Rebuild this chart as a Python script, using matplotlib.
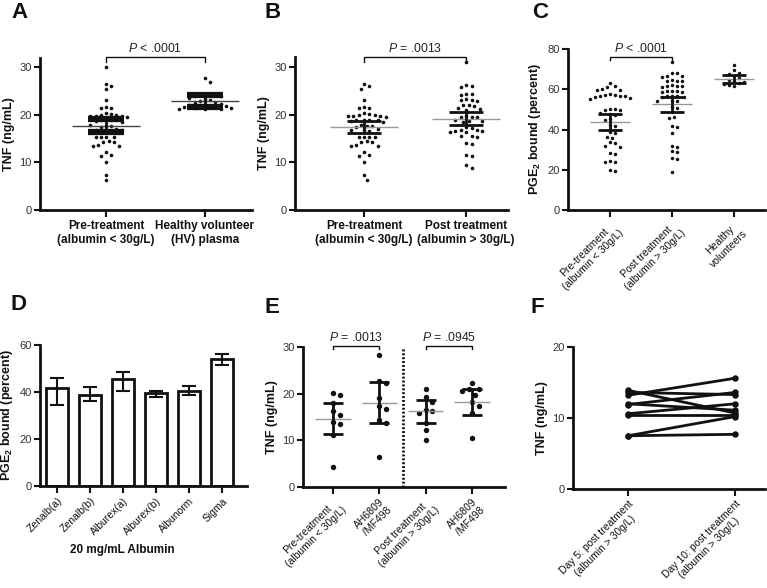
import numpy as np
import matplotlib
matplotlib.use("Agg")
import matplotlib.pyplot as plt

plt.rcParams['font.family'] = ['Liberation Sans', 'DejaVu Sans']
plt.rcParams['mathtext.fontset'] = 'custom'
plt.rcParams['mathtext.rm'] = 'Liberation Sans'
plt.rcParams['mathtext.it'] = 'Liberation Sans:italic'
plt.rcParams['mathtext.bf'] = 'Liberation Sans:bold'

# ---- data ----
# A
a_labels = ["Pre-treatment\n(albumin < 30g/L)", "Healthy volunteer\n(HV) plasma"]
a_pre = [30.1, 26.4, 26.0, 25.3, 23.1, 21.7, 21.5, 21.4, 20.3, 20.1, 19.9, 19.9, 19.8,
         19.8, 19.7, 19.6, 18.9, 18.8, 18.8, 18.8, 18.7, 18.5, 17.9, 17.7, 17.6, 17.5,
         16.9, 16.8, 16.7, 16.6, 16.4, 16.4, 15.4, 15.4, 15.3, 15.3, 14.4, 14.3, 14.2,
         13.6, 13.5, 13.4, 12.2, 11.6, 11.4, 10.0, 7.3, 6.2]
a_hv = [27.8, 26.9, 24.4, 24.3, 24.2, 24.1, 24.0, 23.9, 23.5, 23.3, 23.0, 22.9, 22.7,
        22.5, 22.3, 22.2, 22.0, 21.9, 21.8, 21.8, 21.7, 21.6, 21.5, 21.4, 21.3, 21.2, 21.1]
a_mean = [17.6, 22.9]
a_err_lo = [16.4, 21.7]
a_err_hi = [19.0, 24.2]

# B
b_labels = ["Pre-treatment\n(albumin < 30g/L)", "Post treatment\n(albumin > 30g/L)"]
b_pre = [26.4, 26.0, 25.3, 23.1, 21.7, 21.5, 21.4, 20.3, 20.1, 19.9, 19.9, 19.8, 19.8,
         19.7, 19.6, 18.9, 18.8, 18.8, 18.8, 18.7, 18.5, 17.9, 17.7, 17.6, 17.5, 16.9,
         16.8, 16.7, 16.6, 15.4, 15.4, 15.3, 15.3, 14.4, 14.3, 14.2, 13.6, 13.5, 13.4,
         12.2, 11.6, 11.4, 10.0, 7.3, 6.2]
b_post = [31.1, 26.3, 26.1, 25.9, 24.4, 24.3, 24.2, 23.2, 23.1, 23.0, 22.9, 22.1, 22.0,
          21.8, 21.3, 21.2, 21.0, 19.7, 19.6, 19.6, 19.5, 18.8, 18.7, 18.6, 18.5, 17.5,
          17.3, 16.8, 16.7, 16.6, 16.5, 16.4, 16.3, 15.6, 15.5, 15.3, 14.1, 13.8, 11.6,
          11.4, 9.4, 8.9]
b_mean = [17.5, 19.1]
b_err_lo = [16.1, 17.8]
b_err_hi = [18.7, 20.5]

# C
c_labels = ["Pre-treatment\n(albumin < 30g/L)", "Post treatment\n(albumin > 30g/L)",
            "Healthy\nvolunteers"]
c_pre = [63.3, 61.5, 61.0, 60.0, 59.8, 59.5, 57.5, 57.3, 57.0, 56.8, 56.6, 56.4, 56.2,
         55.5, 55.3, 50.3, 50.1, 49.9, 49.8, 48.0, 47.5, 47.2, 45.0, 44.8, 42.0, 41.8,
         38.8, 38.3, 36.5, 36.0, 33.7, 33.4, 31.8, 31.5, 28.3, 28.0, 24.3, 24.0, 23.8,
         20.0, 19.6]
c_post = [73.3, 68.2, 68.0, 66.7, 66.5, 66.3, 64.5, 64.3, 64.2, 64.0, 62.0, 61.8, 61.7,
          61.5, 61.3, 59.2, 59.0, 58.9, 58.7, 58.5, 56.7, 56.5, 56.4, 56.3, 56.0, 54.4,
          54.2, 54.0, 51.2, 50.8, 48.5, 46.2, 45.8, 41.7, 41.3, 38.5, 31.7, 31.3, 29.2,
          28.8, 25.7, 25.2, 18.7]
c_hv = [72.0, 69.5, 68.0, 67.5, 66.5, 65.5, 64.5, 64.0, 63.5, 63.0, 62.5, 62.0, 61.5]
c_mean = [43.8, 52.5, 65.0]
c_err_lo = [39.7, 48.7, 62.9]
c_err_hi = [47.5, 56.3, 67.2]

# D
d_labels = ["Zenalb(a)", "Zenalb(b)", "Alburex(a)", "Alburex(b)", "Albunorm", "Sigma"]
d_vals = [41.9, 38.6, 45.4, 39.7, 40.4, 54.0]
d_err_lo = [34.3, 36.1, 40.4, 38.0, 38.6, 51.4]
d_err_hi = [46.1, 42.3, 48.6, 40.4, 42.6, 56.1]

# E
e_labels = ["Pre-treatment\n(albumin < 30g/L)", "AH6809\n/MF498",
            "Post treatment\n(albumin > 30g/L)", "AH6809\n/MF498"]
e_groups = [
    [20.2, 19.7, 17.9, 16.2, 15.5, 13.9, 13.4, 11.2, 4.2],
    [28.2, 22.7, 22.2, 19.0, 17.3, 16.8, 14.3, 13.8, 6.5],
    [21.1, 19.3, 18.3, 16.6, 16.2, 15.9, 13.8, 12.3, 10.0],
    [22.3, 21.1, 21.0, 20.6, 19.8, 18.2, 17.4, 15.8, 10.6],
]
e_mean = [14.6, 18.1, 16.2, 18.2]
e_err_lo = [11.4, 13.7, 13.7, 15.5]
e_err_hi = [17.9, 22.6, 18.6, 21.0]

# F
f_labels = ["Day 5: post treatment\n(albumin > 30g/L)", "Day 10: post treatment\n(albumin > 30g/L)"]
f_day5 = [13.9, 13.6, 13.2, 12.0, 11.9, 10.6, 10.4, 7.5, 7.5]
f_day10 = [10.7, 13.3, 15.6, 11.1, 13.6, 12.0, 10.4, 10.2, 7.7]

W, H = 767, 588
fig = plt.figure(figsize=(W / 100, H / 100), dpi=100)


def add_ax(left, right, top, bottom):
    return fig.add_axes([left / W, 1 - bottom / H, (right - left) / W, (bottom - top) / H])


def setup(ax, xlim, ylim, yticks, xticks):
    for s in ['top', 'right']:
        ax.spines[s].set_visible(False)
    for s in ['left', 'bottom']:
        ax.spines[s].set_linewidth(2)
        ax.spines[s].set_color('#111')
    ax.set_xlim(xlim)
    ax.set_ylim(ylim)
    ax.set_yticks(yticks)
    ax.set_xticks(xticks)
    ax.tick_params(direction='out', length=4, width=1.5, labelsize=8, color='#111',
                   labelcolor='#333', pad=2)
    ax.tick_params(axis='x', length=5)


def swarm(ax, xc, vals, gap):
    # simple beeswarm: spread overlapping points sideways, in pixels
    tr = ax.transData
    vals = np.asarray(vals, dtype=float)
    ys = tr.transform(np.column_stack([np.full(len(vals), xc), vals]))[:, 1]
    x0 = tr.transform([[xc, 0]])[0, 0]
    ppx = tr.transform([[xc + 1, 0]])[0, 0] - x0
    offs = np.zeros(len(vals))
    placed = []
    step = gap / 2.0
    for i in np.argsort(-ys):
        k = 0
        while True:
            cands = [0.0] if k == 0 else [k * step, -k * step]
            ok = None
            for c in cands:
                if all((c - px) ** 2 + (ys[i] - py) ** 2 >= gap ** 2 for px, py in placed):
                    ok = c
                    break
            if ok is not None:
                offs[i] = ok
                placed.append((ok, ys[i]))
                break
            k += 1
    return xc + offs / ppx


def bracket(ax, x1, x2, y, drop, text):
    ax.plot([x1, x1, x2, x2], [y - drop, y, y, y - drop], color='#111', lw=1,
            clip_on=False, solid_joinstyle='miter')
    ax.text((x1 + x2) / 2, y + drop * 0.35, text, ha='center', va='bottom', fontsize=8.8,
            color='#222', clip_on=False)


def dot_group(ax, xc, vals, mean, lo, hi, ms, gap, mean_w, capsize, capthick=2,
              mean_color='#999'):
    xs = swarm(ax, xc, vals, gap)
    ax.plot(xs, vals, 'o', ms=ms, color='#111', mec='none', zorder=2)
    ax.hlines(mean, xc - mean_w, xc + mean_w, color=mean_color, lw=1, zorder=3)
    ax.errorbar([xc], [mean], yerr=[[mean - lo], [hi - mean]], fmt='none', ecolor='#111',
                elinewidth=2, capsize=capsize, capthick=capthick, zorder=4)


ylab_kw = dict(fontsize=9, fontweight='bold', color='#111', labelpad=3)
pge_label = r"PGE$_\mathbf{2}$ bound (percent)"
rot_kw = dict(fontsize=7.5, rotation=45, ha='right', va='top', rotation_mode='anchor',
              color='#111')

# ---- A ----
axA = add_ax(40, 252, 58, 210)
setup(axA, (-0.667, 1.475), (0, 31.9), [0, 10, 20, 30], [0, 1])
axA.set_xticklabels(a_labels, fontsize=8.5, fontweight='bold', color='#111')
axA.set_ylabel("TNF (ng/mL)", **ylab_kw)
dot_group(axA, 0, a_pre, a_mean[0], a_err_lo[0], a_err_hi[0], 2.6, 5.2, 0.34, 13,
          capthick=4.5, mean_color='#444')
dot_group(axA, 1, a_hv, a_mean[1], a_err_lo[1], a_err_hi[1], 2.6, 5.2, 0.34, 13,
          capthick=4.5, mean_color='#444')
bracket(axA, 0, 1, 32.1, 1.1, r"$\it{P}$ < .0001")

# ---- B ----
axB = add_ax(295, 508, 57, 210)
setup(axB, (-0.676, 1.41), (0, 32.1), [0, 10, 20, 30], [0, 1])
axB.set_xticklabels(b_labels, fontsize=8.5, fontweight='bold', color='#111')
axB.set_ylabel("TNF (ng/mL)", **ylab_kw)
dot_group(axB, 0, b_pre, b_mean[0], b_err_lo[0], b_err_hi[0], 2.6, 5.4, 0.33, 12.5)
dot_group(axB, 1, b_post, b_mean[1], b_err_lo[1], b_err_hi[1], 2.6, 5.4, 0.33, 12.5)
bracket(axB, 0, 1, 32.1, 1.1, r"$\it{P}$ = .0013")

# ---- C ----
axC = add_ax(568, 765, 49, 210)
setup(axC, (-0.677, 2.5), (0, 80), [0, 20, 40, 60, 80], [0, 1, 2])
axC.set_xticklabels(c_labels, multialignment='center', **rot_kw)
axC.set_ylabel(pge_label, **ylab_kw)
for i, g in enumerate([c_pre, c_post, c_hv]):
    dot_group(axC, i, g, c_mean[i], c_err_lo[i], c_err_hi[i], 2.5, 5.0, 0.32, 8.3)
bracket(axC, 0, 1, 76.2, 1.7, r"$\it{P}$ < .0001")

# ---- D ----
axD = add_ax(40, 247, 345, 486)
setup(axD, (-0.515, 5.76), (0, 60), [0, 20, 40, 60], range(len(d_labels)))
axD.set_xticklabels(d_labels, **rot_kw)
axD.set_ylabel(pge_label, **ylab_kw)
d_x = np.arange(len(d_vals))
axD.bar(d_x, d_vals, width=0.68, color='white', edgecolor='#111', linewidth=2, zorder=2)
axD.errorbar(d_x, d_vals,
             yerr=[np.array(d_vals) - np.array(d_err_lo), np.array(d_err_hi) - np.array(d_vals)],
             fmt='none', ecolor='#111', elinewidth=1.5, capsize=5, capthick=1.5, zorder=3)
fig.text(122 / W, 1 - 550 / H, "20 mg/mL Albumin", ha='center', va='center',
         fontsize=8.5, fontweight='bold', color='#111')

# ---- E ----
axE = add_ax(303, 505, 347, 487)
setup(axE, (-0.648, 3.71), (0, 30), [0, 10, 20, 30], range(4))
axE.set_xticklabels(e_labels, multialignment='center', **rot_kw)
axE.set_ylabel("TNF (ng/mL)", **ylab_kw)
for i, g in enumerate(e_groups):
    dot_group(axE, i, g, e_mean[i], e_err_lo[i], e_err_hi[i], 3.9, 6.6, 0.38, 7.2)
axE.axvline(1.51, color='#111', lw=2, linestyle=(0, (0.7, 0.7)))
bracket(axE, 0, 1, 30.3, 0.8, r"$\it{P}$ = .0013")
bracket(axE, 2, 3, 30.3, 0.8, r"$\it{P}$ = .0945")

# ---- F ----
axF = add_ax(573, 765, 347, 489)
setup(axF, (-0.514, 1.28), (0, 20), [0, 10, 20], [0, 1])
axF.set_xticklabels(f_labels, multialignment='center', **rot_kw)
axF.set_ylabel("TNF (ng/mL)", **ylab_kw)
for a, b in zip(f_day5, f_day10):
    axF.plot([0, 1], [a, b], '-o', color='#111', lw=2, ms=3.6, zorder=2)

# panel letters
for lab, x, y in [("A", 11, 2), ("B", 264, 2), ("C", 532, 2),
                  ("D", 11, 294), ("E", 264, 297), ("F", 531, 297)]:
    fig.text(x / W, 1 - y / H, lab, ha='left', va='top', fontsize=16,
             fontweight='bold', color='#111')

fig.savefig("out.png", dpi=100)
